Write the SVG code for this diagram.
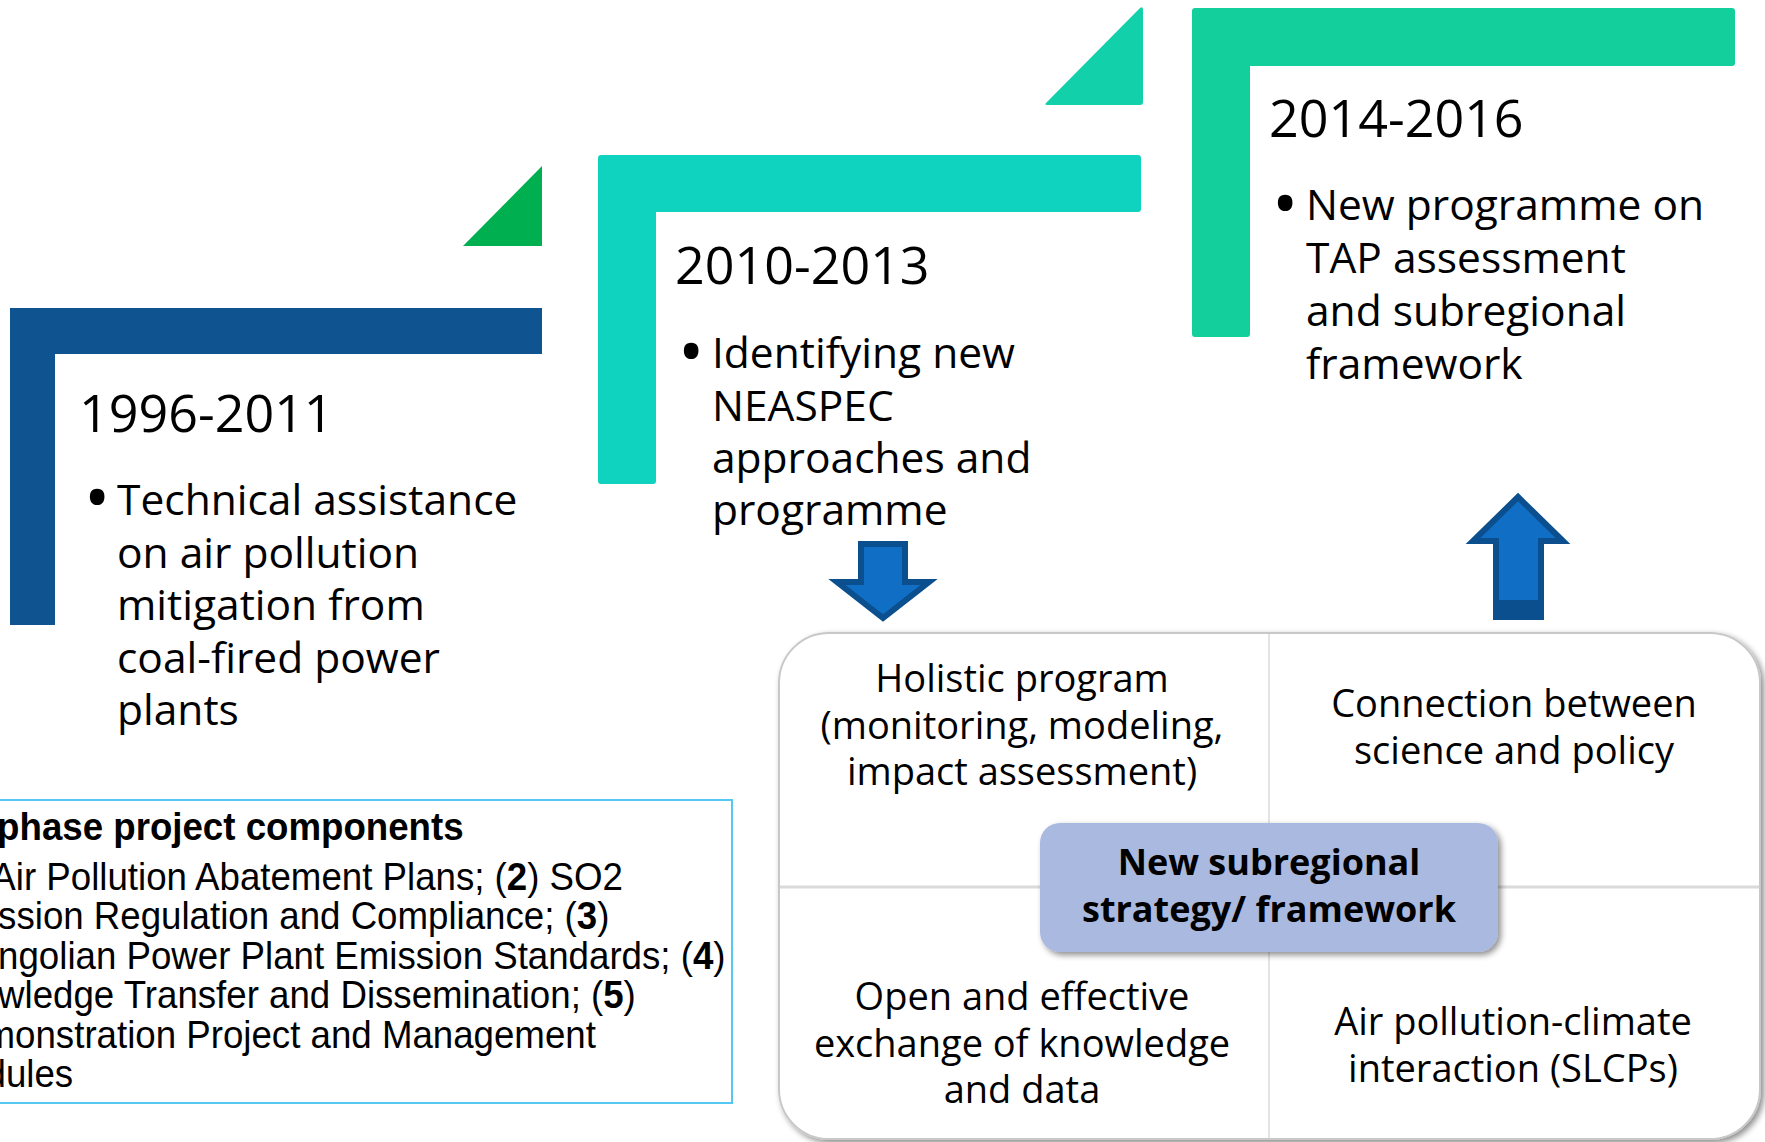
<svg xmlns="http://www.w3.org/2000/svg" width="1765" height="1142" viewBox="0 0 1765 1142">
  <defs>
    <style>
      .year { font-family: "Open Sans", "Liberation Sans", sans-serif; font-size: 52px; fill: #000; }
      .body { font-family: "Open Sans", "Liberation Sans", sans-serif; font-size: 42.5px; fill: #000; }
      .bullet { font-family: "Open Sans", "Liberation Sans", sans-serif; font-size: 70px; fill: #000; }
      .quad { font-family: "Open Sans", "Liberation Sans", sans-serif; font-size: 38px; fill: #000; text-anchor: middle; }
      .center { font-family: "Open Sans", "Liberation Sans", sans-serif; font-size: 36px; font-weight: bold; fill: #000; text-anchor: middle; }
      .note { font-family: "Liberation Sans", Arial, sans-serif; font-size: 38px; fill: #000; }
      .arrow { fill: #106EC4; stroke: #0B4F8F; stroke-width: 6; stroke-linejoin: miter; }
    </style>
    <filter id="shadow" x="-5%" y="-5%" width="112%" height="112%">
      <feGaussianBlur in="SourceAlpha" stdDeviation="3"/>
      <feOffset dx="3" dy="3" result="b"/>
      <feComponentTransfer><feFuncA type="linear" slope="0.45"/></feComponentTransfer>
      <feMerge><feMergeNode/><feMergeNode in="SourceGraphic"/></feMerge>
    </filter>
  </defs>

  <rect width="1765" height="1142" fill="#FFFFFF"/>

  <!-- Phase 1 -->
  <g id="phase1">
    <polygon points="10,308 542,308 542,354 55,354 55,625 10,625" fill="#0F5391"/>
    <polygon points="463,246 542,166 542,246" fill="#00B050"/>
    <text class="year" x="79" y="432">1996-2011</text>
    <text class="bullet" x="84" y="522">•</text>
    <text class="body"><tspan x="117" y="515">Technical assistance</tspan><tspan x="117" y="568">on air pollution</tspan><tspan x="117" y="620">mitigation from</tspan><tspan x="117" y="673">coal-fired power</tspan><tspan x="117" y="725">plants</tspan></text>
  </g>

  <!-- Phase 2 -->
  <g id="phase2">
    <path d="M598,158 Q598,155 601,155 L1138,155 Q1141,155 1141,158 L1141,209 Q1141,212 1138,212 L656,212 L656,481 Q656,484 653,484 L601,484 Q598,484 598,481 Z" fill="#10D3BF"/>
    <path d="M1046,103 L1140,8 Q1143,6 1143,10 L1143,102 Q1143,105 1140,105 L1048,105 Q1044,105 1046,103 Z" fill="#12D0AA"/>
    <text class="year" x="675" y="284">2010-2013</text>
    <text class="bullet" x="678" y="376">•</text>
    <text class="body"><tspan x="712" y="368">Identifying new</tspan><tspan x="712" y="421">NEASPEC</tspan><tspan x="712" y="473">approaches and</tspan><tspan x="712" y="525">programme</tspan></text>
  </g>

  <!-- Phase 3 -->
  <g id="phase3">
    <path d="M1192,11 Q1192,8 1195,8 L1732,8 Q1735,8 1735,11 L1735,63 Q1735,66 1732,66 L1250,66 L1250,334 Q1250,337 1247,337 L1195,337 Q1192,337 1192,334 Z" fill="#13CF9C"/>
    <text class="year" x="1269" y="137">2014-2016</text>
    <text class="bullet" x="1272" y="228">•</text>
    <text class="body"><tspan x="1306" y="220">New programme on</tspan><tspan x="1306" y="273">TAP assessment</tspan><tspan x="1306" y="326">and subregional</tspan><tspan x="1306" y="379">framework</tspan></text>
  </g>

  <!-- First phase components box -->
  <g id="components">
    <rect x="-10" y="800" width="742" height="303" fill="#FFFFFF" stroke="#55C8F2" stroke-width="2"/>
    <g transform="scale(0.965 1)">
      <text class="note" x="-3" y="840" font-weight="bold">phase project components</text>
      <text class="note"><tspan x="-9" y="890">Air Pollution Abatement Plans; (<tspan font-weight="bold">2</tspan>) SO2</tspan><tspan x="-2" y="929.5">ssion Regulation and Compliance; (<tspan font-weight="bold">3</tspan>)</tspan><tspan x="-2" y="969">ngolian Power Plant Emission Standards; (<tspan font-weight="bold">4</tspan>)</tspan><tspan x="-2" y="1008.5">wledge Transfer and Dissemination; (<tspan font-weight="bold">5</tspan>)</tspan><tspan x="-16" y="1048">monstration Project and Management</tspan><tspan x="-15" y="1087.5">dules</tspan></text>
    </g>
  </g>

  <!-- Strategy quadrant -->
  <g id="strategy">
    <rect x="779" y="633" width="981" height="506" rx="50" ry="50" fill="#FFFFFF" stroke="#C8C8C8" stroke-width="2" filter="url(#shadow)"/>
    <line x1="1269" y1="634" x2="1269" y2="1138" stroke="#E3E3E3" stroke-width="2"/>
    <line x1="780" y1="887" x2="1759" y2="887" stroke="#DADADA" stroke-width="3"/>
  </g>

  <g id="q-holistic">
    <text class="quad"><tspan x="1022" y="692">Holistic program</tspan><tspan x="1022" y="739">(monitoring, modeling,</tspan><tspan x="1022" y="785">impact assessment)</tspan></text>
  </g>
  <g id="q-science">
    <text class="quad"><tspan x="1514" y="717">Connection between</tspan><tspan x="1514" y="764">science and policy</tspan></text>
  </g>
  <g id="q-exchange">
    <text class="quad"><tspan x="1022" y="1010">Open and effective</tspan><tspan x="1022" y="1057">exchange of knowledge</tspan><tspan x="1022" y="1103">and data</tspan></text>
  </g>
  <g id="q-climate">
    <text class="quad"><tspan x="1513" y="1035">Air pollution-climate</tspan><tspan x="1513" y="1082">interaction (SLCPs)</tspan></text>
  </g>

  <g id="center-node">
    <rect x="1040" y="823" width="458" height="129" rx="20" ry="20" fill="#AAB9DF" filter="url(#shadow)"/>
    <text class="center"><tspan x="1269" y="875">New subregional</tspan><tspan x="1269" y="922">strategy/ framework</tspan></text>
  </g>

  <!-- Connectors -->
  <g id="connectors">
    <polygon class="arrow" points="861,544 905,544 905,582 929,582 883,618 837,582 861,582"/>
    <polygon class="arrow" points="1518,497 1563,541 1541,541 1541,617 1496,617 1496,541 1473,541"/>
    <rect x="1493" y="600" width="51" height="20" fill="#0B4F8F"/>
  </g>
</svg>
